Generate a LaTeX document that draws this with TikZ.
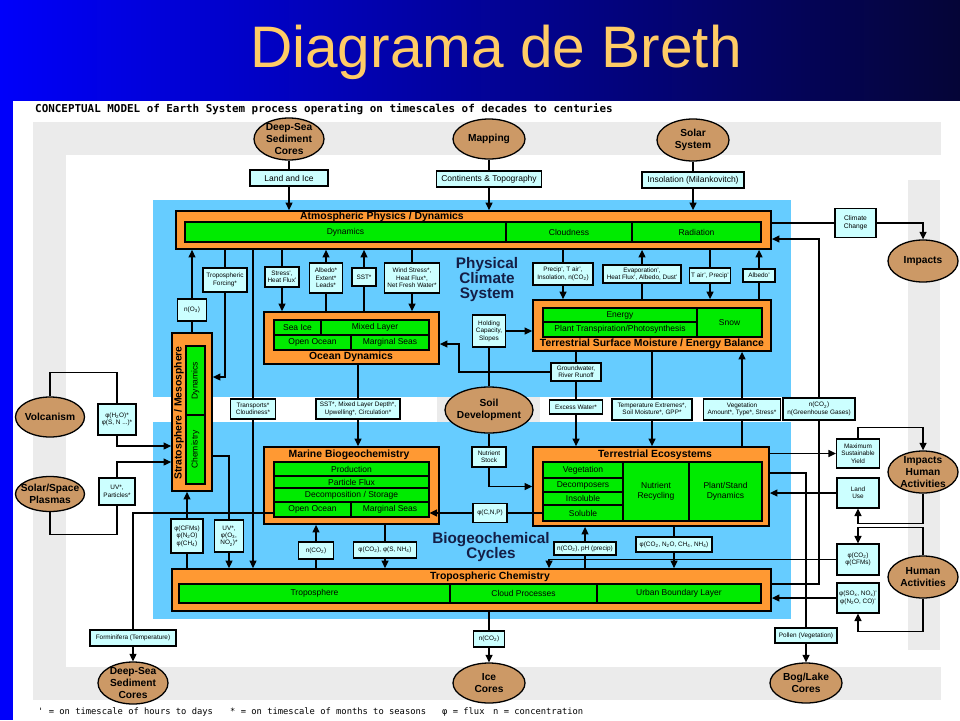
\documentclass[tikz,border=0pt]{standalone}
\usepackage{fontspec}
\setmainfont{Liberation Sans}
\newfontfamily\monofam{DejaVu Sans Mono}
\usetikzlibrary{shapes.geometric,arrows.meta,calc}
\definecolor{pblue}{RGB}{102,204,255}
\definecolor{orng}{RGB}{255,153,51}
\definecolor{grn}{RGB}{0,235,0}
\definecolor{lcyan}{RGB}{204,255,255}
\definecolor{tanc}{RGB}{204,153,102}
\definecolor{gband}{RGB}{235,235,235}
\definecolor{navyt}{RGB}{20,30,70}
\definecolor{ttlc}{RGB}{255,204,102}
\definecolor{bannerL}{RGB}{0,0,250}
\definecolor{bannerR}{RGB}{5,5,55}
\newcommand\sbs[1]{\textsubscript{#1}}
\newcommand{\mkbox}[7]{\node[#1,minimum width={(#5)-(#3)},minimum height={(#6)-(#4)}] (#2) at ({((#3)+(#5))/2},{((#4)+(#6))/2}) {#7};}
\begin{document}
\begin{tikzpicture}[x=1pt,y=-1pt,
  ln/.style={line width=1.3pt, draw=black},
  arr/.style={-{Triangle[length=7.5pt,width=7pt]}},
  lbl/.style={draw, line width=1.1pt, fill=lcyan, inner sep=0.5pt, align=center, font=\fontsize{6.4}{7.4}\selectfont},
  lblbig/.style={lbl, font=\fontsize{8.5}{10}\selectfont},
  oval/.style={ellipse, draw, line width=1.3pt, fill=tanc, inner sep=0pt},
  otext/.style={font=\bfseries\fontsize{10.2}{12}\selectfont, align=center, inner sep=0pt},
  obox/.style={draw, line width=1.8pt, fill=orng, inner sep=0pt},
  gcell/.style={draw, line width=1.2pt, fill=grn, inner sep=0pt, align=center, font=\fontsize{8.5}{10}\selectfont},
  gtext/.style={font=\fontsize{8.5}{10}\selectfont, inner sep=0pt},
  ttl/.style={font=\bfseries\fontsize{10.4}{12}\selectfont, inner sep=0pt},
  big/.style={font=\bfseries\fontsize{15.3}{15}\selectfont, text=navyt, align=center, inner sep=0pt}]
\useasboundingbox (0,0) rectangle (960,720);
% ---------- background ----------
\fill[white] (0,0) rectangle (960,720);
\shade[left color=bannerL, right color=bannerR] (0,0) rectangle (960,100);
\fill[bannerL] (0,100) rectangle (13,720);
\fill[gband] (33,122) rectangle (941,155);
\fill[gband] (33,122) rectangle (66,700);
\fill[gband] (33,667) rectangle (941,700);
\fill[gband] (908,180) rectangle (940,650);
\fill[pblue] (153,200) rectangle (791,397);
\fill[pblue] (153,422) rectangle (791,619);
\fill[gband] (437,397) rectangle (540,422);
% ---------- titles ----------
\node[anchor=base, font=\fontsize{58.6}{60}\selectfont, text=ttlc, inner sep=0] (TT) at (496,67) {Diagrama de Breth};
\node[anchor=base west, font=\monofam\bfseries\fontsize{10.9}{12}\selectfont, inner sep=0] (HDR) at (35,112) {CONCEPTUAL MODEL of Earth System process operating on timescales of decades to centuries};
\node[anchor=base west, font=\monofam\fontsize{8.8}{10}\selectfont, inner sep=0] (lg1) at (38,714) {' = on timescale of hours to days};
\node[anchor=base west, font=\monofam\fontsize{8.8}{10}\selectfont, inner sep=0] (lg2) at (230,714) {* = on timescale of months to seasons};
\node[anchor=base west, font=\monofam\fontsize{8.8}{10}\selectfont, inner sep=0] (lg3) at (442,714) {φ = flux};
\node[anchor=base west, font=\monofam\fontsize{8.8}{10}\selectfont, inner sep=0] (lg4) at (493,714) {n = concentration};
\node[big] (PCS) at (487,280) {Physical\\Climate\\System};
\node[big] (BGC) at (491,547.5) {Biogeochemical\\Cycles};
% ---------- Atmospheric Physics ----------
\mkbox{obox}{Atm}{176}{211}{771}{249}{}
\mkbox{gcell}{AtmD}{185}{222}{506}{242}{Dynamics}
\mkbox{gcell}{AtmC}{506}{222}{632}{242}{Cloudness}
\mkbox{gcell}{AtmR}{632}{222}{761}{242}{Radiation}
\node[ttl] (AtmT) at (382,216.5) {Atmospheric Physics / Dynamics};
% ---------- Ocean Dynamics ----------
\mkbox{obox}{Oce}{264}{312}{439}{364}{}
\mkbox{gcell}{OceSI}{274}{320}{321}{335}{Sea Ice}
\mkbox{gcell}{OceML}{321}{320}{429}{335}{Mixed Layer}
\mkbox{gcell}{OceOO}{274}{335}{351}{350}{Open Ocean}
\mkbox{gcell}{OceMS}{351}{335}{429}{350}{Marginal Seas}
\node[ttl] (OceT) at (351,357) {Ocean Dynamics};
% ---------- Terrestrial Surface ----------
\mkbox{obox}{TS}{533}{300}{771}{351}{}
\mkbox{gcell}{TSE}{543}{308}{697}{322}{Energy}
\mkbox{gcell}{TSP}{543}{322}{697}{337}{Plant Transpiration/Photosynthesis}
\mkbox{gcell}{TSS}{697}{308}{762}{337}{Snow}
\node[ttl] (TST) at (652,344) {Terrestrial Surface Moisture / Energy Balance};
% ---------- Stratosphere ----------
\mkbox{obox}{Str}{172}{333}{212}{491}{}
\mkbox{gcell}{StrD}{186}{346}{205}{415}{}
\mkbox{gcell}{StrC}{186}{415}{205}{484}{}
\node[gtext, rotate=90] (StrDt) at (StrD) {Dynamics};
\node[gtext, rotate=90] (StrCt) at (StrC) {Chemistry};
\node[ttl, rotate=90] (StrT) at (179,413) {Stratosphere / Mesosphere};
% ---------- Marine Biogeochemistry ----------
\mkbox{obox}{Mar}{264}{447}{439}{524}{}
\mkbox{gcell}{MarP}{274}{462}{429}{476}{Production}
\mkbox{gcell}{MarF}{274}{476}{429}{488}{Particle Flux}
\mkbox{gcell}{MarD}{274}{488}{429}{502}{Decomposition / Storage}
\mkbox{gcell}{MarOO}{274}{502}{351}{517}{Open Ocean}
\mkbox{gcell}{MarMS}{351}{502}{429}{517}{Marginal Seas}
\node[ttl] (MarT) at (349,454.5) {Marine Biogeochemistry};
% ---------- Terrestrial Ecosystems ----------
\mkbox{obox}{TEc}{533}{447}{769}{526}{}
\mkbox{gcell}{TEv}{543}{462}{623}{478}{Vegetation}
\mkbox{gcell}{TEd}{543}{478}{623}{492}{Decomposers}
\mkbox{gcell}{TEi}{543}{492}{623}{505}{Insoluble}
\mkbox{gcell}{TEs}{543}{505}{623}{521}{Soluble}
\mkbox{gcell}{TEn}{623}{462}{689}{521}{Nutrient\\Recycling}
\mkbox{gcell}{TEp}{689}{462}{762}{521}{Plant/Stand\\Dynamics}
\node[ttl] (TEcT) at (655,454.5) {Terrestrial Ecosystems};
% ---------- Tropospheric Chemistry ----------
\mkbox{obox}{Trop}{172}{569}{771}{611}{}
\mkbox{gcell}{TrT}{179}{584}{450}{603}{Troposphere}
\mkbox{gcell}{TrC}{450}{584}{597}{603}{Cloud Processes}
\mkbox{gcell}{TrU}{597}{584}{761}{603}{Urban Boundary Layer}
\node[ttl] (TropT) at (490,576.5) {Tropospheric Chemistry};
% ---------- ovals ----------
\node[oval, minimum width=70, minimum height=42] (DS1) at (289,139) {};
\node[otext] (DS1t) at (DS1) {Deep-Sea\\Sediment\\Cores};
\node[oval, minimum width=72, minimum height=40] (MAP) at (489,139) {};
\node[otext] (MAPt) at (MAP) {Mapping};
\node[oval, minimum width=72, minimum height=42] (SOL) at (693,140) {};
\node[otext] (SOLt) at (SOL) {Solar\\System};
\node[oval, minimum width=70, minimum height=42] (IMP) at (923,261) {};
\node[otext] (IMPt) at (IMP) {Impacts};
\node[oval, minimum width=70, minimum height=42] (IHA) at (923,472) {};
\node[otext] (IHAt) at (IHA) {Impacts\\Human\\Activities};
\node[oval, minimum width=70, minimum height=42] (HA) at (923,577) {};
\node[otext] (HAt) at (HA) {Human\\Activities};
\node[oval, minimum width=69, minimum height=40] (VOL) at (50,417) {};
\node[otext] (VOLt) at (VOL) {Volcanism};
\node[oval, minimum width=69, minimum height=35] (SSP) at (50,494) {};
\node[otext] (SSPt) at (SSP) {Solar/Space\\Plasmas};
\node[oval, minimum width=88, minimum height=46] (SOIL) at (489,410) {};
\node[otext] (SOILt) at (SOIL) {Soil\\Development};
\node[oval, minimum width=70, minimum height=42] (DS2) at (133,683) {};
\node[otext] (DS2t) at (DS2) {Deep-Sea\\Sediment\\Cores};
\node[oval, minimum width=72, minimum height=40] (ICE) at (489,683) {};
\node[otext] (ICEt) at (ICE) {Ice\\Cores};
\node[oval, minimum width=72, minimum height=40] (BOG) at (806,683) {};
\node[otext] (BOGt) at (BOG) {Bog/Lake\\Cores};
% ---------- label boxes ----------
\node[lblbig, minimum width=78, minimum height=16] (L1) at (289,178) {Land and Ice};
\node[lblbig, minimum width=105, minimum height=16] (L2) at (489,179) {Continents \& Topography};
\node[lblbig, minimum width=102, minimum height=16] (L3) at (693,180) {Insolation (Milankovitch)};
\node[lbl, font=\fontsize{6.7}{8}\selectfont, minimum width=41, minimum height=29] (CC) at (855.5,223) {Climate\\Change};
\node[lbl, minimum width=29, minimum height=22] (nO3) at (192,310) {n(O\sbs{3})};
\node[lbl, minimum width=44, minimum height=24] (TF) at (225,280) {Tropospheric\\Forcing*};
\node[lbl, minimum width=34, minimum height=20] (SHF) at (282,277) {Stress',\\Heat Flux'};
\node[lbl, minimum width=33, minimum height=30] (ALB) at (326,278) {Albedo*\\Extent*\\Leads*};
\node[lbl, minimum width=24, minimum height=18] (SST) at (364,277) {SST*};
\node[lbl, minimum width=55, minimum height=30] (WS) at (412,278) {Wind Stress*,\\Heat Flux*,\\Net Fresh Water*};
\node[lbl, minimum width=60, minimum height=22] (PT) at (563,274) {Precip', T air',\\Insolation, n(CO\sbs{2})};
\node[lbl, minimum width=78, minimum height=18] (EV) at (642,274) {Evaporation',\\Heat Flux', Albedo, Dust'};
\node[lbl, minimum width=41, minimum height=15] (TP) at (710,275.5) {T air', Precip'};
\node[lbl, minimum width=32, minimum height=13] (AL2) at (759,275.5) {Albedo'};
\node[lbl, minimum width=33, minimum height=32] (HC) at (489,331) {Holding\\Capacity,\\Slopes};
\node[lbl, minimum width=50, minimum height=18] (GW) at (576,372) {Groundwater,\\River Runoff};
\node[lbl, minimum width=45, minimum height=20] (TC) at (253,409) {Transports*\\Cloudiness*};
\node[lbl, minimum width=84, minimum height=20] (SSTM) at (358,409) {SST*, Mixed Layer Depth*,\\Upwelling*, Circulation*};
\node[lbl, minimum width=53, minimum height=14] (EW) at (576,407) {Excess Water*};
\node[lbl, minimum width=80, minimum height=21] (TE) at (652,409.5) {Temperature Extremes*,\\Soil Moisture*, GPP*};
\node[lbl, minimum width=77, minimum height=21] (VG) at (742,409.5) {Vegetation\\Amount*, Type*, Stress*};
\node[lbl, minimum width=72, minimum height=22] (NC) at (819,409) {n(CO\sbs{2})\\n(Greenhouse Gases)};
\node[lbl, minimum width=38, minimum height=31] (PH) at (117,419.5) {φ(H\sbs{2}O)*\\φ(S, N ...)*};
\node[lbl, minimum width=36, minimum height=27] (UV) at (117,491.5) {UV*,\\Particles*};
\node[lbl, minimum width=32, minimum height=34] (CF) at (187,536) {φ(CFMs)\\φ(N\sbs{2}O)\\φ(CH\sbs{4})};
\node[lbl, minimum width=29, minimum height=32] (UO) at (229,536) {UV*,\\φ(O\sbs{3},\\NO\sbs{2})*};
\node[lbl, minimum width=35, minimum height=17] (NC2) at (316,550.5) {n(CO\sbs{2})};
\node[lbl, minimum width=63, minimum height=16] (CS) at (385,550) {φ(CO\sbs{2}), φ(S, NH\sbs{4})};
\node[lbl, minimum width=34, minimum height=19] (CNP) at (490,513) {φ(C,N,P)};
\node[lbl, minimum width=34, minimum height=20] (NS) at (489,457) {Nutrient\\Stock};
\node[lbl, minimum width=62, minimum height=13] (PHP) at (585,548.5) {n(CO\sbs{2}), pH (precip)};
\node[lbl, minimum width=76, minimum height=15] (CO) at (674,544.5) {φ(CO\sbs{2}, N\sbs{2}O, CH\sbs{4}, NH\sbs{4})};
\node[lbl, minimum width=43, minimum height=29] (MSY) at (858,453.5) {Maximum\\Sustainable\\Yield};
\node[lbl, minimum width=42, minimum height=30] (LU) at (858,493) {Land\\Use};
\node[lbl, minimum width=42, minimum height=31] (CFM) at (858,559.5) {φ(CO\sbs{2})\\φ(CFMs)};
\node[lbl, minimum width=42, minimum height=30] (SOX) at (858,598) {φ(SO\sbs{x}, NO\sbs{x})'\\φ(N\sbs{2}O, CO)'};
\node[lbl, minimum width=62, minimum height=15] (POL) at (806,635.5) {Pollen (Vegetation)};
\node[lbl, minimum width=86, minimum height=16] (FOR) at (133,638) {Forminifera (Temperature)};
\node[lbl, minimum width=31, minimum height=16] (NCI) at (489,639) {n(CO\sbs{2})};
\coordinate (gwk) at (459,344);
% ---------- connectors ----------
\draw[ln] (DS1) -- (L1);
\draw[ln,arr] (L1) -- (L1 |- Atm.north);
\draw[ln] (MAP) -- (L2);
\draw[ln,arr] (L2) -- (L2 |- Atm.north);
\draw[ln] (SOL) -- (L3);
\draw[ln,arr] (L3) -- (L3 |- Atm.north);
\draw[ln] (Atm.east |- CC.west) -- (CC.west);
\draw[ln,arr] (CC.east) -| (IMP.north);
\draw[ln,arr] (NC.north) |- ([yshift=-9pt]Atm.east);
\draw[ln] (NC.south) |- ([yshift=6pt]Trop.east);
\draw[ln] (Str.north -| nO3) -- (nO3);
\draw[ln,arr] (nO3) -- (nO3 |- Atm.south);
\draw[ln] (TF |- Atm.south) -- (TF);
\draw[ln,arr] (TF.south) |- ([yshift=35pt]Str.east);
\draw[ln] (TC |- Atm.south) -- (TC);
\draw[ln,arr] (TC) -- (TC |- Trop.north);
\draw[ln] (SHF |- Atm.south) -- (SHF);
\draw[ln,arr] (SHF) -- (SHF |- Oce.north);
\draw[ln] (ALB |- Oce.north) -- (ALB);
\draw[ln,arr] (ALB) -- (ALB |- Atm.south);
\draw[ln] (SST |- Oce.north) -- (SST);
\draw[ln,arr] (SST) -- (SST |- Atm.south);
\draw[ln] (WS |- Atm.south) -- (WS);
\draw[ln,arr] (WS) -- (WS |- Oce.north);
\draw[ln] (PT |- Atm.south) -- (PT);
\draw[ln,arr] (PT) -- (PT |- TS.north);
\draw[ln] (EV |- TS.north) -- (EV);
\draw[ln,arr] (EV) -- (EV |- Atm.south);
\draw[ln] (TP |- Atm.south) -- (TP);
\draw[ln,arr] (TP) -- (TP |- TS.north);
\draw[ln] (AL2 |- TS.north) -- (AL2);
\draw[ln,arr] (AL2) -- (AL2 |- Atm.south);
\draw[ln] (SOIL) -- (HC);
\draw[ln,arr] (HC.east) -- (HC.east -| TS.west);
\draw[ln] (GW |- TS.south) -- (GW);
\draw[ln,arr] (GW.west) -| (gwk) -- (gwk -| Oce.east);
\draw[ln] (GW) -- (EW);
\draw[ln,arr] (EW) -- (EW |- TEc.north);
\draw[ln] (TE |- TS.south) -- (TE);
\draw[ln,arr] (TE) -- (TE |- TEc.north);
\draw[ln] (VG |- TEc.north) -- (VG);
\draw[ln,arr] (VG) -- (VG |- TS.south);
\draw[ln] (SSTM |- Oce.south) -- (SSTM);
\draw[ln,arr] (SSTM) -- (SSTM |- Mar.north);
\draw[ln] (VOL.north) -- ++(0,-24) -| (PH.north);
\draw[ln,arr] (PH.south) |- ([yshift=-34pt]Str.west);
\draw[ln] (SSP.south) -- ++(0,22) -| (UV.south);
\draw[ln,arr] (UV.north) |- ([yshift=-50pt]Str.west);
\draw[ln] (CF |- Trop.north) -- (CF);
\draw[ln,arr] (CF) -- (CF |- Str.south);
\draw[ln] ([yshift=-44pt]Str.east) -| (UO.north);
\draw[ln,arr] (UO) -- (UO |- Trop.north);
\draw[ln] (NC2 |- Trop.north) -- (NC2);
\draw[ln,arr] (NC2) -- (NC2 |- Mar.south);
\draw[ln] (CS |- Mar.south) -- (CS);
\draw[ln,arr] (CS) -- (CS |- Trop.north);
\draw[ln] (TEs.west |- CNP) -- (CNP);
\draw[ln,arr] (CNP) -- (CNP -| MarMS.east);
\draw[ln] (SOIL) -- (NS);
\draw[ln,arr] (NS.south) |- (TEc.west);
\draw[ln] ([yshift=-3.5pt]MarOO.west) -| (FOR.north);
\draw[ln,arr] (FOR) -- (DS2);
\draw[ln] (NCI |- Trop.south) -- (NCI);
\draw[ln,arr] (NCI) -- (ICE);
\draw[ln] (PHP |- Trop.north) -- (PHP);
\draw[ln,arr] (PHP) -- (PHP |- TEc.south);
\draw[ln] (CO |- TEc.south) -- (CO);
\draw[ln,arr] (CO) -- (CO |- Trop.north);
\draw[ln,arr] (CFM.west) -| (Trop.north -| 549,0);
\draw[ln,arr] (TEc.east |- MSY.west) -- (MSY.west);
\draw[ln,arr] (MSY.north) -- ++(0,-11) -| (IHA.north);
\draw[ln,arr] (LU.west) -- (LU.west -| TEc.east);
\draw[ln,arr] (IHA.south) -- ++(0,30) -| (LU.south);
\draw[ln,arr] (HA.north) -- ++(0,-28) -| (CFM.north);
\draw[ln,arr] (SOX.west) -- (SOX.west -| Trop.east);
\draw[ln,arr] (HA.south) -- ++(0,33) -| (SOX.south);
\draw[ln] ([yshift=13.5pt]TEc.east) -| (POL.north);
\draw[ln,arr] (POL) -- (BOG);
\end{tikzpicture}
\end{document}
